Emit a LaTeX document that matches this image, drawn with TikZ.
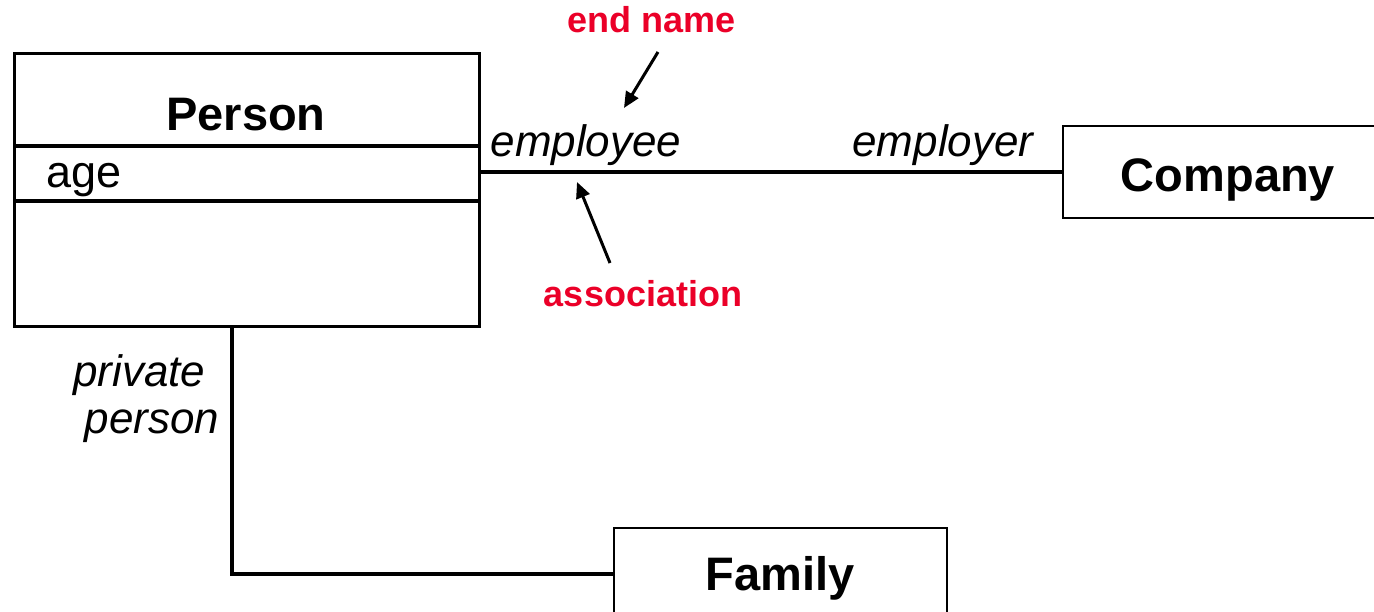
\documentclass[tikz,border=0pt]{standalone}
\usepackage{fontspec}
\setmainfont{Liberation Sans}
\usetikzlibrary{arrows.meta}
\definecolor{notered}{RGB}{235,0,40}
\begin{document}
\begin{tikzpicture}[x=1pt,y=-1pt,
  classbox/.style={draw, line width=2.8pt, inner sep=0pt, anchor=north west},
  link/.style={line width=4.5pt},
  pointer/.style={line width=3pt, -{Triangle[length=16pt,width=14pt]}},
  cname/.style={font=\fontsize{47}{47}\selectfont\bfseries, anchor=base},
  role/.style={font=\fontsize{44}{44}\selectfont\itshape, anchor=base},
  note/.style={font=\fontsize{36}{36}\selectfont\bfseries, text=notered, anchor=base}]
\clip (0,0) rectangle (1374,612);
\useasboundingbox (0,0) rectangle (1374,612);

% classes
\node[classbox, minimum width=465pt, minimum height=273pt] (person) at (13,52) {};
\node[classbox, minimum width=313pt, minimum height=92pt, line width=2.3pt] (company) at (1062,125) {};
\node[classbox, minimum width=333pt, minimum height=92pt, line width=2.3pt] (family) at (613,527) {};

% Person compartments
\coordinate (attrtop) at (0,146);
\coordinate (attrbot) at (0,201);
\draw[line width=3.3pt] (person.west |- attrtop) -- (person.east |- attrtop);
\draw[line width=3.3pt] (person.west |- attrbot) -- (person.east |- attrbot);

\node[cname] (personname) at (246,131) {Person};
\node[font=\fontsize{45}{45}\selectfont, anchor=base west] (age) at (43,188) {age};
\node[cname] (companyname) at (1228,192) {Company};
\node[cname] (familyname) at (780,590) {Family};

% associations
\draw[link] (company.west) -- (company.west -| person.east);
\coordinate (drop) at (232,0);
\draw[link] (person.south -| drop) |- (family.west);

% end names
\node[role, anchor=base west] (employee) at (487,157) {employee};
\node[role, anchor=base east] (employer) at (1037,157) {employer};
\node[role, anchor=base east] (private) at (209,386) {private};
\node[role, anchor=base east] (privperson) at (223,433) {person};

% annotations
\node[note] (endname) at (652,33) {end name};
\node[note] (assoc) at (643,307) {association};
\coordinate (endtail) at (658,52);
\coordinate (endhead) at (624,108);
\coordinate (assoctail) at (610,263);
\coordinate (assochead) at (577,182);
\draw[pointer] (endtail) -- (endhead);
\draw[pointer] (assoctail) -- (assochead);
\end{tikzpicture}
\end{document}
